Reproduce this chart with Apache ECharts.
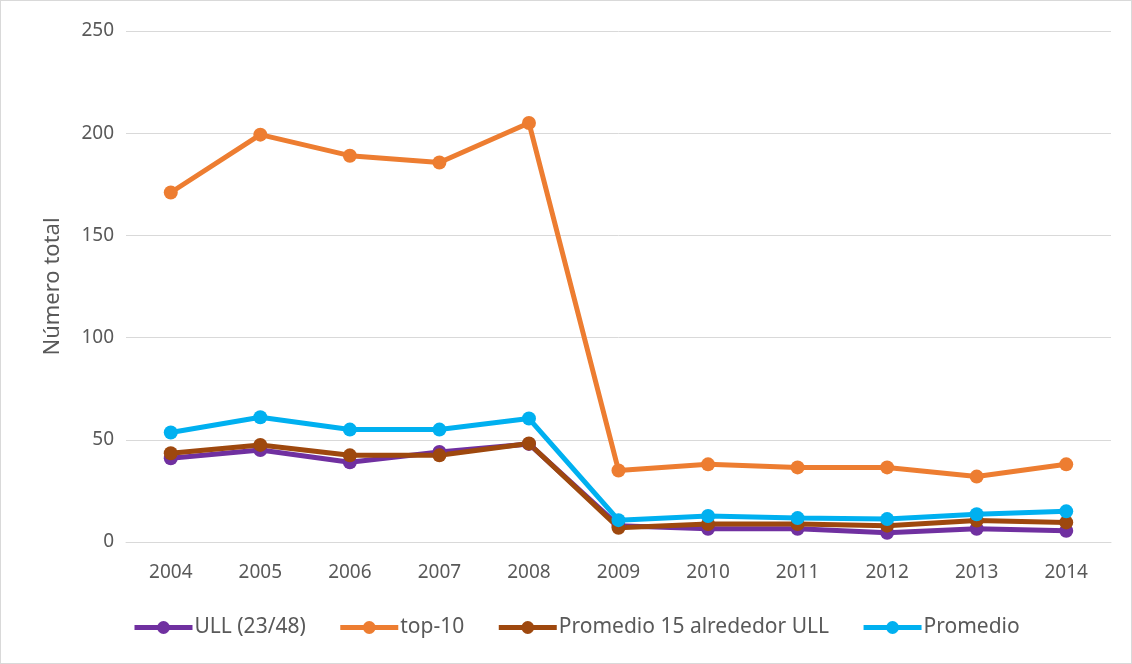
<!DOCTYPE html>
<html>
<head>
<meta charset="utf-8">
<script src="https://cdn.jsdelivr.net/npm/echarts@6/dist/echarts.min.js"></script>
<style>
  html, body { margin: 0; padding: 0; background: #fff; }
  #chart { width: 1132px; height: 664px; box-sizing: border-box; border: 1px solid #d9d9d9; }
</style>
</head>
<body>
<div id="chart"></div>
<script>
// datos
const years = ["2004", "2005", "2006", "2007", "2008", "2009", "2010", "2011", "2012", "2013", "2014"];
const ull = [41, 45, 39, 44, 48, 8, 6.5, 6.5, 4.5, 6.5, 5.5];
const top10 = [171, 199.3, 189, 185.7, 205, 35, 38, 36.5, 36.5, 32, 38];
const prom15 = [43.4, 47.5, 42.4, 42.4, 48.2, 7, 8.8, 8.8, 8, 10.5, 9.6];
const promedio = [53.6, 61, 55, 55, 60.4, 10.7, 12.7, 11.7, 11.2, 13.6, 15];

const font = "Noto Sans";
const textColor = "#595959";

const chart = echarts.init(document.getElementById("chart"));

function serie(name, data, color) {
  return {
    name: name,
    type: "line",
    data: data,
    symbol: "circle",
    symbolSize: 14,
    lineStyle: { width: 5, color: color },
    itemStyle: { color: color },
    animation: false,
  };
}

chart.setOption({
  textStyle: { fontFamily: font },
  grid: { left: 125, right: 20, top: 30, bottom: 121 },
  legend: {
    top: 616,
    left: 131,
    padding: 0,
    itemWidth: 58,
    itemHeight: 16,
    itemGap: 32,
    textStyle: { fontSize: 21, color: textColor, fontFamily: font, padding: [0, 0, 0, -3] },
    lineStyle: { width: 5 },
    data: ["ULL (23/48)", "top-10", "Promedio 15 alrededor ULL", "Promedio"],
  },
  xAxis: {
    type: "category",
    data: years,
    axisTick: { show: false },
    axisLine: { lineStyle: { color: "#d9d9d9", width: 1 } },
    axisLabel: { fontSize: 19, color: textColor, margin: 21 },
  },
  yAxis: {
    type: "value",
    min: 0,
    max: 250,
    interval: 50,
    name: "Número total",
    nameLocation: "middle",
    nameGap: 62,
    nameTextStyle: { fontSize: 22, color: textColor },
    axisLine: { show: false },
    axisTick: { show: false },
    axisLabel: { fontSize: 19, color: textColor, margin: 12 },
    splitLine: { lineStyle: { color: "#d9d9d9", width: 1 } },
  },
  series: [
    serie("ULL (23/48)", ull, "#7030A0"),
    serie("top-10", top10, "#ED7D31"),
    serie("Promedio 15 alrededor ULL", prom15, "#9E480E"),
    serie("Promedio", promedio, "#00B0F0"),
  ],
});
</script>
</body>
</html>
